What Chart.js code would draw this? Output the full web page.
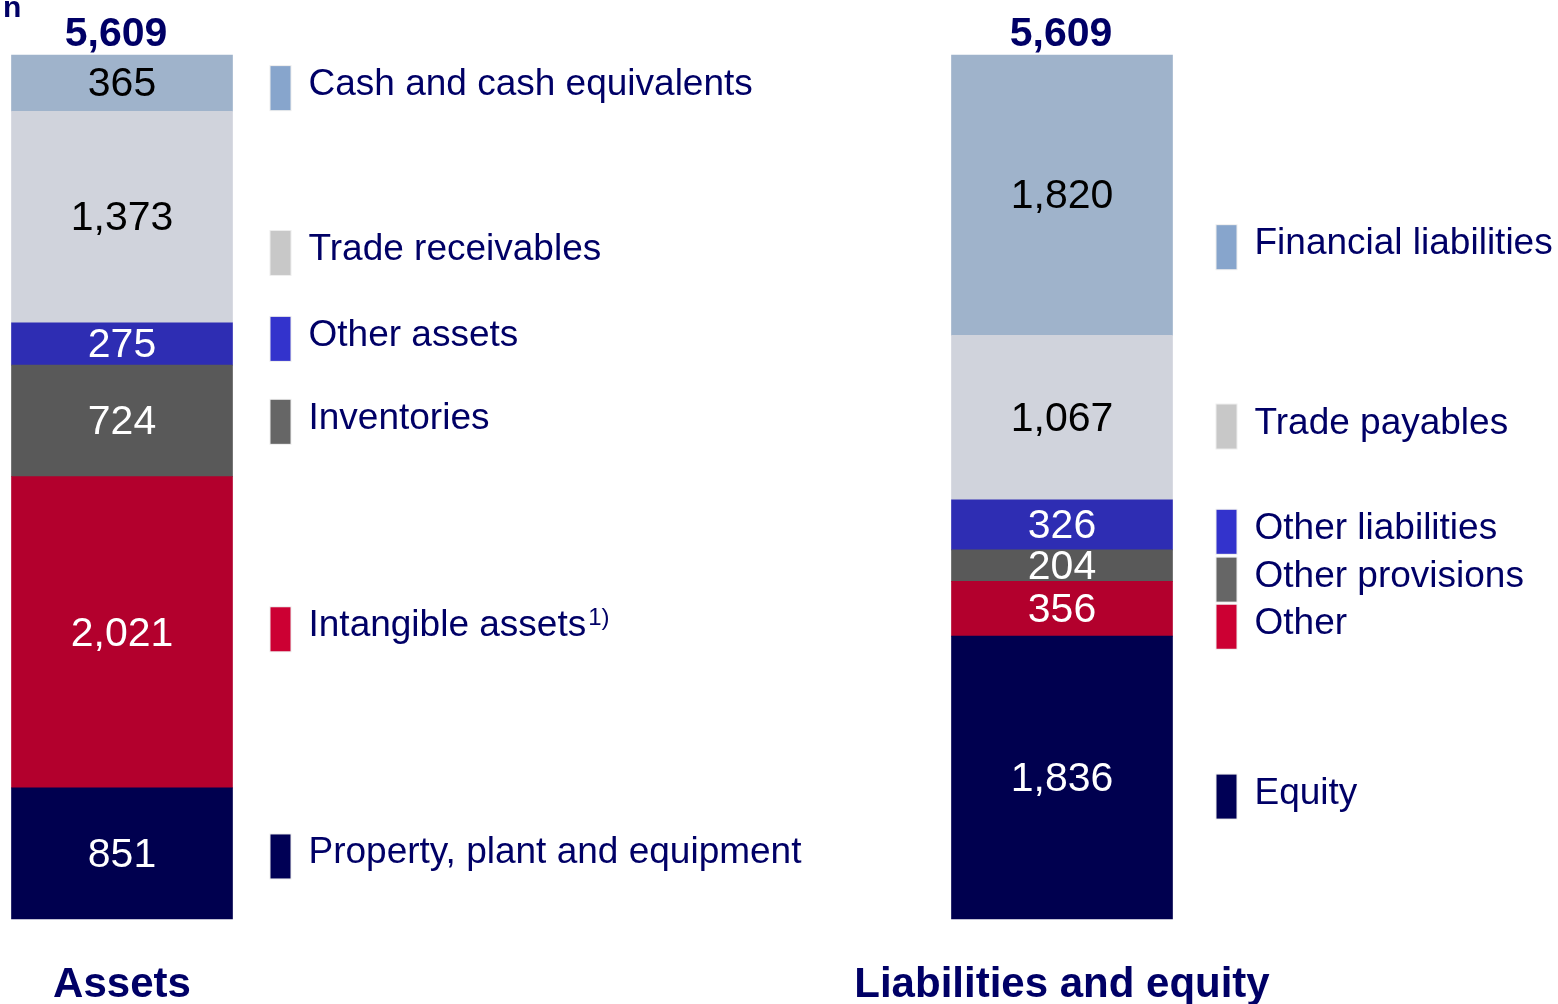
<!DOCTYPE html>
<html>
<head>
<meta charset="utf-8">
<script src="https://cdn.jsdelivr.net/npm/chart.js@4"></script>
<style>
  body { margin: 0; background: #fff; }
  #wrap { width: 1558px; height: 1004px; position: relative; }
</style>
</head>
<body>
<div id="wrap"><canvas id="balanceChart"></canvas></div>
<script>
// Balance sheet structure (stack order from bottom to top)
const categories = ['Assets', 'Liabilities and equity'];
const assetLabels = ['Property, plant and equipment', 'Intangible assets', 'Inventories', 'Other assets', 'Trade receivables', 'Cash and cash equivalents'];
const assetNotes = ['', '1)', '', '', '', ''];
const assetValues = [851, 2021, 724, 275, 1373, 365];
const liabilityLabels = ['Equity', 'Other', 'Other provisions', 'Other liabilities', 'Trade payables', 'Financial liabilities'];
const liabilityValues = [1836, 356, 204, 326, 1067, 1820];
const unitLabel = 'n';

// Colours per stack layer
const barColors = ['#00004f', '#b3002d', '#595959', '#2e2db3', '#d0d3dc', '#9fb3cb'];
const markerColors = ['#000055', '#cc0033', '#666666', '#3333cc', '#c8c8c8', '#87a5cc'];
const valueColors = ['#fff', '#fff', '#fff', '#fff', '#000', '#000'];

// Legend entries sit a little off the segment middle (layout only, px)
const assetLegendShift = [3, -3, 1, -5, 36, 5];
const liabilityLegendShift = [19, 18, 14, 7, 9, 52];

const NAVY = '#000066';
const FONT = "'Liberation Sans', Arial, Helvetica, sans-serif";

const sum = arr => arr.reduce((a, b) => a + b, 0);
const fmt = v => v.toLocaleString('en-US');

const datasets = assetValues.map(function(v, i) {
    return {
        label: assetLabels[i] + ' / ' + liabilityLabels[i],
        data: [assetValues[i], liabilityValues[i]],
        backgroundColor: barColors[i],
        borderWidth: 0,
        barThickness: 221,
        clip: false
    };
});

// Draws totals, segment values, side legends and the column titles
const annotations = {
    id: 'annotations',
    afterDatasetsDraw(chart) {
        const ctx = chart.ctx;
        const columns = [
            { labels: assetLabels, notes: assetNotes, values: assetValues, shift: assetLegendShift, totalNudge: -6 },
            { labels: liabilityLabels, notes: liabilityLabels.map(() => ''), values: liabilityValues, shift: liabilityLegendShift, totalNudge: -1 }
        ];
        ctx.save();

        // unit hint, cut off at the top edge
        ctx.fillStyle = NAVY;
        ctx.font = 'bold 30px ' + FONT;
        ctx.textAlign = 'left';
        ctx.textBaseline = 'alphabetic';
        ctx.fillText(unitLabel, 3, 17);

        columns.forEach(function(col, c) {
            const bars = chart.data.datasets.map((d, i) => chart.getDatasetMeta(i).data[c]);
            const top = bars[bars.length - 1];
            const cx = top.x;

            // total above the bar
            ctx.fillStyle = NAVY;
            ctx.font = 'bold 41px ' + FONT;
            ctx.textAlign = 'center';
            ctx.textBaseline = 'alphabetic';
            ctx.fillText(fmt(sum(col.values)), cx + col.totalNudge, top.y - 9);

            // values inside segments
            ctx.font = '41px ' + FONT;
            ctx.textBaseline = 'middle';
            bars.forEach(function(bar, i) {
                ctx.fillStyle = valueColors[i];
                ctx.fillText(fmt(col.values[i]), cx, (bar.y + bar.base) / 2 + 2);
            });

            // column title
            ctx.fillStyle = NAVY;
            ctx.font = 'bold 42px ' + FONT;
            ctx.textBaseline = 'alphabetic';
            ctx.fillText(categories[c], cx, 997);

            // legend entries next to the bar, top down, kept apart
            const mx = cx + top.width / 2 + (c === 0 ? 38 : 44);
            let prev = -Infinity;
            for (let i = bars.length - 1; i >= 0; i--) {
                let cy = (bars[i].y + bars[i].base) / 2 + col.shift[i];
                cy = Math.max(cy, prev + 46);
                prev = cy;
                ctx.fillStyle = '#eeeeee';
                ctx.fillRect(mx - 1, cy - 23, 22, 46);
                ctx.fillStyle = markerColors[i];
                ctx.fillRect(mx, cy - 22, 20, 44);

                ctx.fillStyle = NAVY;
                ctx.font = '37px ' + FONT;
                ctx.textAlign = 'left';
                ctx.fillText(col.labels[i], mx + 38, cy + 7);
                if (col.notes[i]) {
                    const w = ctx.measureText(col.labels[i]).width;
                    ctx.font = '24px ' + FONT;
                    ctx.fillText(col.notes[i], mx + 38 + w + 2, cy - 4);
                }
                ctx.textAlign = 'center';
            }
        });
        ctx.restore();
    }
};

new Chart(document.getElementById('balanceChart'), {
    type: 'bar',
    data: { labels: categories, datasets: datasets },
    options: {
        responsive: true,
        maintainAspectRatio: false,
        animation: false,
        layout: { padding: { left: 122, right: 496, top: 55, bottom: 85 } },
        scales: {
            x: { stacked: true, display: false, offset: false },
            y: { stacked: true, display: false, min: 0, max: sum(assetValues) }
        },
        plugins: {
            legend: { display: false },
            tooltip: { enabled: false }
        }
    },
    plugins: [annotations]
});
</script>
</body>
</html>
